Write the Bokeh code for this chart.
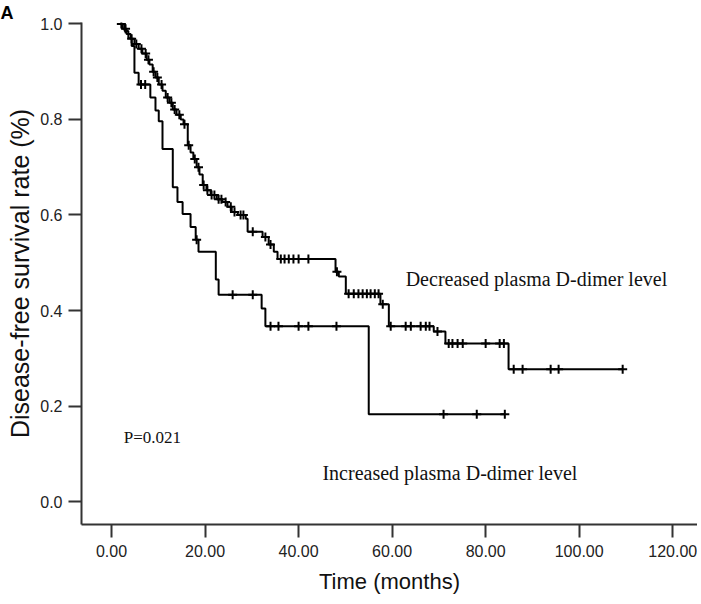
import numpy as np
from bokeh.plotting import figure
from bokeh.models import Range1d, FixedTicker, PrintfTickFormatter, Label, Title
from bokeh.embed import file_html
from bokeh.resources import INLINE

# ---- data (months, survival proportion) ----
# Decreased plasma D-dimer level (upper curve)
upper_times = [1.9, 2.4, 3.2, 4.1, 4.9, 5.8, 6.6, 7.5, 8.1, 8.8, 9.4, 10.1, 10.9,
               11.6, 12.4, 13.1, 13.9, 14.8, 15.4, 16.3, 16.9, 17.5, 18.2, 18.8,
               19.5, 20.3, 21.2, 22.5, 23.7, 24.8, 25.7, 27.0, 28.7, 29.1, 32.3,
               33.6, 34.7, 35.5, 47.9, 48.6, 50.1, 57.5, 59.3, 68.9, 71.4, 84.9]
upper_surv = [1.0, 0.990, 0.979, 0.969, 0.958, 0.948, 0.938, 0.925, 0.915, 0.900,
              0.888, 0.873, 0.860, 0.846, 0.835, 0.821, 0.810, 0.800, 0.790, 0.746,
              0.731, 0.717, 0.700, 0.685, 0.663, 0.652, 0.642, 0.633, 0.627, 0.617,
              0.606, 0.600, 0.592, 0.565, 0.554, 0.538, 0.523, 0.508, 0.481, 0.471,
              0.435, 0.413, 0.367, 0.356, 0.331, 0.277]
upper_end = 109.3
upper_censor = [2.1, 3.0, 4.3, 5.3, 6.4, 7.3, 7.9, 9.0, 9.8, 10.7, 12.0, 12.8, 13.5,
                14.5, 15.6, 16.5, 17.8, 18.6, 19.7, 20.5, 21.4, 22.0, 22.9, 23.5,
                24.4, 25.5, 26.3, 27.6, 28.2, 30.2, 32.9, 34.0, 36.2, 37.0, 37.9,
                38.9, 40.0, 42.1, 48.2, 50.7, 51.8, 52.8, 53.7, 54.6, 55.4, 56.3,
                57.1, 58.0, 59.7, 62.9, 64.0, 66.1, 67.2, 68.0, 69.7, 72.1, 72.9,
                74.0, 75.1, 80.0, 83.0, 83.9, 86.0, 87.9, 93.9, 95.6, 109.3]

# Increased plasma D-dimer level (lower curve)
lower_times = [1.9, 2.8, 3.6, 4.3, 4.9, 5.8, 8.3, 9.4, 10.1, 10.9, 13.1, 14.1,
               15.2, 16.9, 18.0, 18.6, 22.3, 22.9, 32.1, 32.9, 55.0]
lower_surv = [1.0, 0.985, 0.970, 0.954, 0.898, 0.873, 0.846, 0.819, 0.796, 0.738,
              0.658, 0.627, 0.602, 0.575, 0.548, 0.523, 0.465, 0.433, 0.404, 0.367,
              0.183]
lower_end = 84.1
lower_censor = [6.3, 7.2, 18.2, 25.9, 30.2, 34.0, 35.7, 40.0, 42.1, 48.1, 71.0,
                78.1, 84.1]

x_ticks = [0, 20, 40, 60, 80, 100, 120]
y_ticks = [0.0, 0.2, 0.4, 0.6, 0.8, 1.0]

label_decreased = "Decreased plasma D-dimer level"
label_increased = "Increased plasma D-dimer level"
p_value_text = "P=0.021"
panel_letter = "A"

# ---- figure ----
p = figure(width=697, height=598, output_backend="svg", toolbar_location=None,
           x_range=Range1d(-6.42, 125.3), y_range=Range1d(-0.048, 1.003),
           min_border_left=81, min_border_right=0, min_border_top=21,
           min_border_bottom=74)
p.outline_line_color = None
p.xgrid.visible = False
p.ygrid.visible = False
p.background_fill_color = "white"
p.border_fill_color = "white"

p.add_layout(Title(text=panel_letter, align="left", offset=-81, standoff=0,
                   text_font="Liberation Sans", text_font_size="18px",
                   text_font_style="bold", text_color="black"), "above")


def step_xy(times, surv, end):
    xs = list(times) + [end]
    ys = list(surv) + [surv[-1]]
    return xs, ys


def censor_y(times, surv, cens):
    t = np.asarray(times)
    s = np.asarray(surv)
    idx = np.searchsorted(t, np.asarray(cens), side="right") - 1
    idx = np.clip(idx, 0, len(s) - 1)
    return s[idx]


for times, surv, end, cens in [(upper_times, upper_surv, upper_end, upper_censor),
                               (lower_times, lower_surv, lower_end, lower_censor)]:
    xs, ys = step_xy(times, surv, end)
    p.step(xs, ys, mode="after", line_color="black", line_width=2)
    p.scatter(cens, censor_y(times, surv, cens), marker="cross", size=9,
              line_color="black", line_width=2)

for ax in (p.xaxis[0], p.yaxis[0]):
    ax.axis_line_color = "#333333"
    ax.axis_line_width = 2
    ax.major_tick_line_color = "#333333"
    ax.major_tick_line_width = 2
    ax.major_tick_out = 13
    ax.major_tick_in = 0
    ax.minor_tick_line_color = None
    ax.major_label_text_font = "Liberation Sans"
    ax.major_label_text_font_size = "16px"
    ax.major_label_text_color = "#222222"
    ax.axis_label_text_font = "Liberation Sans"
    ax.axis_label_text_font_style = "normal"
    ax.axis_label_text_color = "#111111"

p.xaxis.major_label_standoff = 7
p.yaxis.major_label_standoff = 6
p.xaxis.ticker = FixedTicker(ticks=x_ticks)
p.yaxis.ticker = FixedTicker(ticks=y_ticks)
p.xaxis.formatter = PrintfTickFormatter(format="%.2f")
p.yaxis.formatter = PrintfTickFormatter(format="%.1f")
p.xaxis.axis_label = "Time (months)"
p.yaxis.axis_label = "Disease-free survival rate (%)"
p.xaxis.axis_label_text_font_size = "22px"
p.yaxis.axis_label_text_font_size = "25px"
p.xaxis.axis_label_standoff = 9
p.yaxis.axis_label_standoff = 3

serif = "Liberation Serif"
p.add_layout(Label(x=62.9, y=0.465, text=label_decreased, text_font=serif,
                   text_font_size="20px", text_baseline="middle", text_align="left",
                   text_color="#111111"))
p.add_layout(Label(x=45.1, y=0.060, text=label_increased, text_font=serif,
                   text_font_size="20px", text_baseline="middle", text_align="left",
                   text_color="#111111"))
p.add_layout(Label(x=2.6, y=0.135, text=p_value_text, text_font=serif,
                   text_font_size="17px", text_baseline="middle", text_align="left",
                   text_color="#111111"))

open("out.html", "w").write(file_html(p, INLINE))
